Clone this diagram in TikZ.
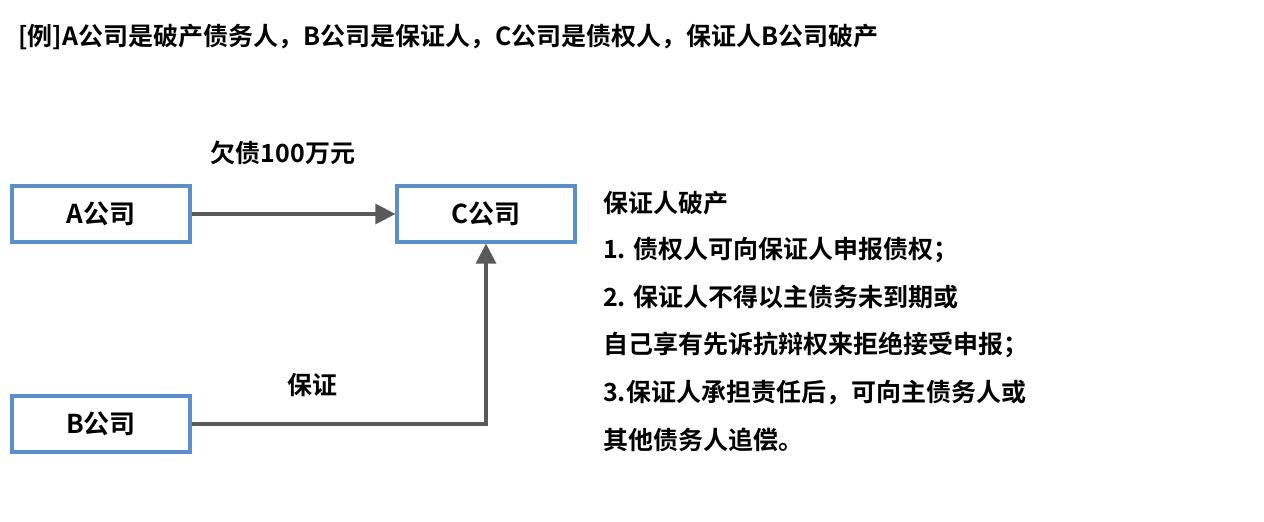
\documentclass[tikz,border=0pt]{standalone}
\usepackage{fontspec}
\setmainfont{Noto Sans CJK SC}[BoldFont={* Bold}]
\usetikzlibrary{arrows.meta}
\definecolor{bx}{HTML}{5B8FC7}
\definecolor{ar}{HTML}{595959}
\begin{document}
\begin{tikzpicture}[x=1pt,y=-1pt,
  box/.style={draw=bx,line width=3.2pt,minimum width=178pt,minimum height=56pt,font=\fontsize{26pt}{30pt}\selectfont\bfseries,inner sep=0pt},
  lab/.style={font=\fontsize{25pt}{30pt}\selectfont\bfseries,inner sep=0pt,anchor=west},
  con/.style={draw=ar,line width=3.2pt,-{Triangle[length=20pt,width=20pt]}}]
\useasboundingbox (0,0) rectangle (1264,522);
\node[lab] (t) at (18,37) {[例]A公司是破产债务人，B公司是保证人，C公司是债权人，保证人B公司破产};
\node[box] (a) at (101,214) {A公司};
\node[box] (c) at (486,214) {C公司};
\node[box] (b) at (101,424) {B公司};
\node[lab,anchor=center] (l1) at (283,153) {欠债100万元};
\node[lab,anchor=center] (l2) at (312,385) {保证};
\draw[con] (a.east) -- (c.west);
\coordinate (k) at (486,424);
\draw[con] (b.east) -- (k) -- (c.south);
\node[lab] (r1) at (603,203) {保证人破产};
\node[lab] (r2) at (603,250) {1. 债权人可向保证人申报债权；};
\node[lab] (r3) at (603,297) {2. 保证人不得以主债务未到期或};
\node[lab] (r4) at (603,345) {自己享有先诉抗辩权来拒绝接受申报；};
\node[lab] (r5) at (603,393) {3.保证人承担责任后，可向主债务人或};
\node[lab] (r6) at (603,440) {其他债务人追偿。};
\end{tikzpicture}
\end{document}
